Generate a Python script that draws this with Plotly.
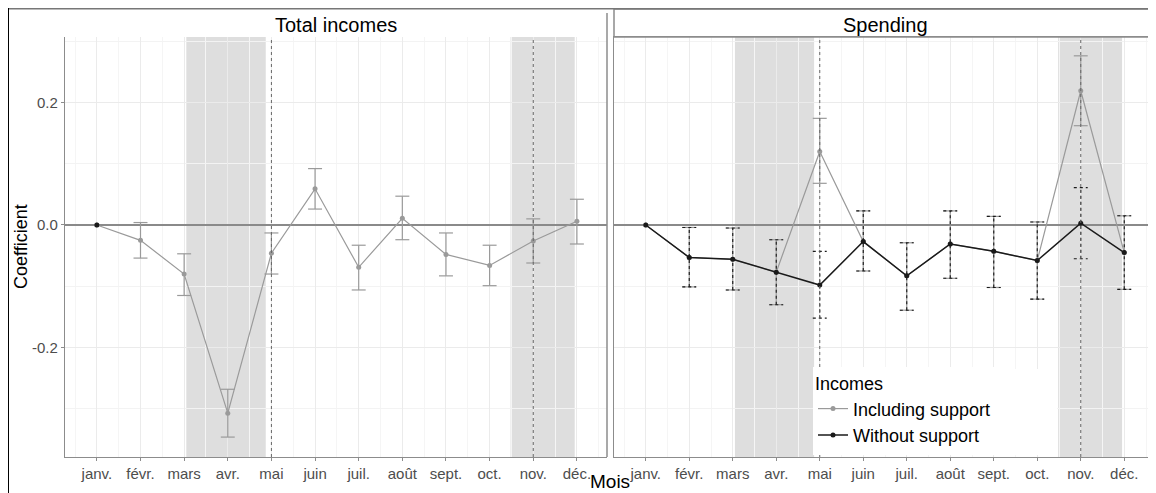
import plotly.graph_objects as go

# --- DATA ---
months = ["janv.", "févr.", "mars", "avr.", "mai", "juin",
          "juil.", "août", "sept.", "oct.", "nov.", "déc."]

# Total incomes (left panel), "Including support"
inc_with_coef = [0.0, -0.025, -0.080, -0.307, -0.046, 0.059, -0.069, 0.011, -0.048, -0.066, -0.026, 0.006]
inc_with_lo = [None, -0.054, -0.115, -0.346, -0.080, 0.026, -0.106, -0.024, -0.083, -0.099, -0.062, -0.031]
inc_with_hi = [None, 0.004, -0.047, -0.268, -0.013, 0.092, -0.033, 0.047, -0.013, -0.033, 0.010, 0.042]
# Total incomes, "Without support" (only the reference month is shown)
inc_without_coef = [0.0, None, None, None, None, None, None, None, None, None, None, None]

# Spending (right panel)
sp_with_coef = [0.0, -0.053, -0.056, -0.077, 0.120, -0.027, -0.083, -0.031, -0.043, -0.058, 0.219, -0.045]
sp_with_lo = [None, -0.101, -0.106, -0.130, 0.068, -0.075, -0.139, -0.087, -0.102, -0.121, 0.162, -0.105]
sp_with_hi = [None, -0.004, -0.005, -0.024, 0.174, 0.023, -0.029, 0.023, 0.014, 0.005, 0.276, 0.015]
sp_without_coef = [0.0, -0.053, -0.056, -0.077, -0.098, -0.027, -0.083, -0.031, -0.043, -0.058, 0.003, -0.045]
sp_without_lo = [None, -0.101, -0.106, -0.130, -0.152, -0.075, -0.139, -0.087, -0.102, -0.121, -0.055, -0.105]
sp_without_hi = [None, -0.004, -0.005, -0.024, -0.043, 0.023, -0.029, 0.023, 0.014, 0.005, 0.061, 0.015]

# lockdown periods (month position) and policy dates
bands = [(3.05, 4.87), (10.48, 11.95)]
vlines = [5, 11]

# --- STYLE ---
OFF = 8  # the page puts the figure 8px in from the top-left corner
W, H = 1156 - OFF, 493 - OFF
FONT = "Liberation Sans, Arial, sans-serif"
GREY = "#9a9a9a"
BLACK = "#1a1a1a"
BORDER = "#8c8c8c"

xs = list(range(1, len(months) + 1))
minor_x = [m - 0.5 for m in xs] + [xs[-1] + 0.5]


def px_x(p):
    # screen pixel -> paper fraction
    return (p - OFF) / W


def px_y(p):
    return 1 - (p - OFF) / H


def bar_segments(x, lo, hi, cap=0.16):
    """Error bars as line segments (so they can be dotted)."""
    bx, by = [], []
    for xi, l, h in zip(x, lo, hi):
        if l is None:
            continue
        bx += [xi, xi, None, xi - cap, xi + cap, None, xi - cap, xi + cap, None]
        by += [l, h, None, l, l, None, h, h, None]
    return bx, by


fig = go.Figure()

panels = [
    ("x", "y", inc_with_coef, inc_with_lo, inc_with_hi, inc_without_coef, None, None, False),
    ("x2", "y2", sp_with_coef, sp_with_lo, sp_with_hi, sp_without_coef, sp_without_lo, sp_without_hi, True),
]

for xa, ya, wc, wl, wh, nc, nl, nh, legend in panels:
    # including support (grey)
    ex, ey = bar_segments(xs, wl, wh)
    fig.add_trace(go.Scatter(x=ex, y=ey, xaxis=xa, yaxis=ya, mode="lines",
                             line=dict(color=GREY, width=1.2), hoverinfo="skip",
                             showlegend=False))
    fig.add_trace(go.Scatter(x=xs, y=wc, xaxis=xa, yaxis=ya, mode="lines+markers",
                             line=dict(color=GREY, width=1.2),
                             marker=dict(color=GREY, size=5),
                             name="Including support", showlegend=legend))
    # without support (black)
    if nl is not None:
        ex, ey = bar_segments(xs, nl, nh)
        fig.add_trace(go.Scatter(x=ex, y=ey, xaxis=xa, yaxis=ya, mode="lines",
                                 line=dict(color=BLACK, width=1.1, dash="dot"),
                                 hoverinfo="skip", showlegend=False))
    fig.add_trace(go.Scatter(x=xs, y=nc, xaxis=xa, yaxis=ya, mode="lines+markers",
                             line=dict(color=BLACK, width=1.5),
                             marker=dict(color=BLACK, size=5),
                             name="Without support", showlegend=legend))

# shaded periods and dotted reference lines in both panels
for xa, ya in [("x", "y"), ("x2", "y2")]:
    for b0, b1 in bands:
        fig.add_shape(type="rect", xref=xa, yref=ya + " domain", x0=b0, x1=b1, y0=0, y1=1,
                      fillcolor="#dedede", line_width=0, layer="below")
    for v in vlines:
        fig.add_shape(type="line", xref=xa, yref=ya + " domain", x0=v, x1=v, y0=0, y1=1,
                      line=dict(color="#666666", width=1, dash="dot"), layer="above")

# white legend box (wider than plotly's own legend background)
fig.add_shape(type="rect", xref="paper", yref="paper", x0=px_x(813), x1=px_x(1057),
              y0=px_y(455), y1=px_y(369), fillcolor="white", line_width=0, layer="above")

# panel borders, strip box and frame of the screenshot
fig.add_shape(type="line", xref="paper", yref="paper", x0=px_x(607), x1=px_x(607),
              y0=px_y(457), y1=px_y(13), line=dict(color=BORDER, width=1.5))
fig.add_shape(type="rect", xref="paper", yref="paper", x0=px_x(614), x1=1.01,
              y0=px_y(37), y1=px_y(9), line=dict(color=BORDER, width=1.5))
fig.add_shape(type="line", xref="paper", yref="paper", x0=0, x1=1,
              y0=1, y1=1, line=dict(color="#777777", width=3))
fig.add_shape(type="line", xref="paper", yref="paper", x0=0, x1=0,
              y0=0, y1=1, line=dict(color="black", width=2))

xaxis_common = dict(
    range=[0.27, 12.69], tickmode="array", tickvals=xs, ticktext=months,
    ticks="outside", ticklen=3, tickcolor=BORDER, showgrid=True, gridcolor="#ebebeb",
    gridwidth=1, minor=dict(tickvals=minor_x, showgrid=True, gridcolor="#f5f5f5"),
    showline=True, linecolor=BORDER, linewidth=1.2, zeroline=False,
    tickfont=dict(size=15, color="#4d4d4d", family=FONT),
)
yaxis_common = dict(
    range=[-0.3785, 0.3067], tickmode="array", tickvals=[-0.2, 0.0, 0.2],
    ticktext=["-0.2", "0.0", "0.2"], showgrid=True, gridcolor="#ebebeb",
    minor=dict(tickvals=[-0.3, -0.1, 0.1, 0.3], showgrid=True, gridcolor="#f3f3f3"),
    zeroline=True, zerolinecolor="#8a8a8a", zerolinewidth=1.6,
    showline=True, linecolor=BORDER, linewidth=1.2,
    tickfont=dict(size=15, color="#4d4d4d", family=FONT),
    domain=[px_y(457), px_y(37)],
)

label = dict(xref="paper", yref="paper", showarrow=False,
             xanchor="center", yanchor="middle")

fig.update_layout(
    width=W, height=H,
    margin=dict(l=0, r=0, t=0, b=0),
    paper_bgcolor="white", plot_bgcolor="white",
    font=dict(family=FONT, color="black"),
    xaxis=dict(xaxis_common, domain=[px_x(65), px_x(607)], anchor="y"),
    xaxis2=dict(xaxis_common, domain=[px_x(614), 1.0], range=[0.27, 12.73],
                anchor="y2", mirror=True),
    yaxis=dict(yaxis_common, anchor="x", ticks="outside", ticklen=3, tickcolor=BORDER),
    yaxis2=dict(yaxis_common, anchor="x2", showticklabels=False, ticks="",
                mirror=True),
    legend=dict(
        title=dict(text="Incomes", font=dict(size=18, family=FONT)),
        font=dict(size=18, family=FONT),
        x=px_x(813), y=px_y(367), xanchor="left", yanchor="top",
        bgcolor="white", borderwidth=0, itemwidth=30, tracegroupgap=0,
    ),
    annotations=[
        dict(label, text="Total incomes", x=px_x(336), y=px_y(25), font=dict(size=20)),
        dict(label, text="Spending", x=px_x(885), y=px_y(25), font=dict(size=20)),
        dict(label, text="Coefficient", x=px_x(21), y=px_y(247), textangle=-90,
             font=dict(size=18)),
        dict(label, text="Mois", x=px_x(610), y=px_y(481), font=dict(size=19)),
    ],
)

fig.write_html("out.html")
